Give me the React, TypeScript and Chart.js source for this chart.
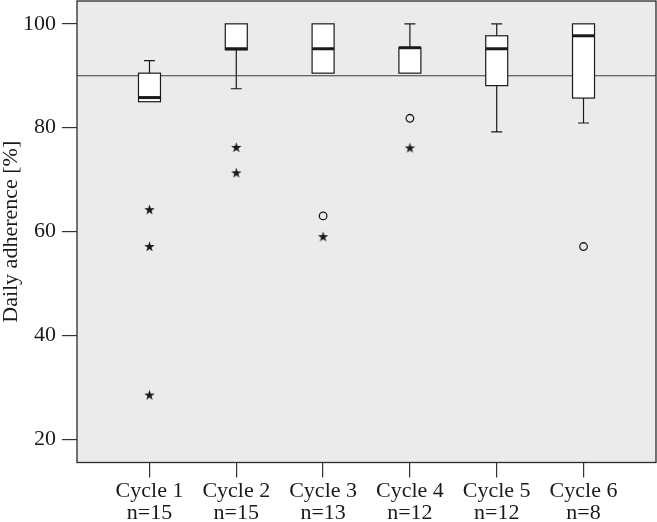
import React, { useEffect, useRef } from "react";
import { Chart, registerables } from "chart.js";

Chart.register(...registerables);

// ---- data ----
const cycles = [1, 2, 3, 4, 5, 6];
const xLabels = [
  ["Cycle 1", "n=15"],
  ["Cycle 2", "n=15"],
  ["Cycle 3", "n=13"],
  ["Cycle 4", "n=12"],
  ["Cycle 5", "n=12"],
  ["Cycle 6", "n=8"],
];
const whiskerLow = [85.0, 87.5, 90.5, 90.5, 79.2, 80.9];
const q1 = [85.0, 95.0, 90.5, 90.5, 88.1, 85.7];
const median = [85.8, 95.2, 95.2, 95.4, 95.2, 97.7];
const q3 = [90.5, 100, 100, 95.4, 97.7, 100];
const whiskerHigh = [92.9, 100, 100, 100, 100, 100];

const circleCycle = [3, 4, 6];
const circleValue = [63.0, 81.8, 57.1];
const starCycle = [1, 1, 1, 2, 2, 3, 4];
const starValue = [64.2, 57.1, 28.5, 76.2, 71.3, 59.0, 76.1];

const yTicks = [20, 40, 60, 80, 100];
const referenceValue = 90;

const FONT = "'Liberation Serif', 'Times New Roman', serif";
const INK = "#1a1a1a";

function makeStar(): HTMLCanvasElement {
  const c = document.createElement("canvas");
  c.width = 13;
  c.height = 13;
  const ctx = c.getContext("2d")!;
  ctx.fillStyle = INK;
  ctx.beginPath();
  const cx = 6.5, cy = 6.8, R = 5.5, r = 2.1;
  for (let i = 0; i < 10; i++) {
    const rad = i % 2 === 0 ? R : r;
    const a = -Math.PI / 2 + (i * Math.PI) / 5;
    const px = cx + rad * Math.cos(a);
    const py = cy + rad * Math.sin(a);
    if (i === 0) ctx.moveTo(px, py);
    else ctx.lineTo(px, py);
  }
  ctx.closePath();
  ctx.fill();
  return c;
}

const boxPlugin = {
  id: "boxPlugin",
  beforeDraw(chart: any) {
    const { ctx, chartArea: a } = chart;
    ctx.save();
    ctx.fillStyle = "#ebebeb";
    ctx.fillRect(a.left, a.top, a.right - a.left, a.bottom - a.top);
    ctx.restore();
  },
  beforeDatasetsDraw(chart: any) {
    const { ctx, chartArea: a, scales } = chart;
    const xs = scales.x;
    const ys = scales.y;
    ctx.save();
    // reference line
    const ry = ys.getPixelForValue(referenceValue);
    ctx.strokeStyle = "#3a3a3a";
    ctx.lineWidth = 1.2;
    ctx.beginPath();
    ctx.moveTo(a.left, ry);
    ctx.lineTo(a.right, ry);
    ctx.stroke();

    const halfBox = 11;
    const halfCap = 5.5;
    cycles.forEach((c, i) => {
      const cx = xs.getPixelForValue(c);
      const yq1 = ys.getPixelForValue(q1[i]);
      const yq3 = ys.getPixelForValue(q3[i]);
      const ymed = ys.getPixelForValue(median[i]);
      const ylo = ys.getPixelForValue(whiskerLow[i]);
      const yhi = ys.getPixelForValue(whiskerHigh[i]);
      ctx.strokeStyle = INK;
      ctx.lineWidth = 1.2;
      // whiskers
      if (whiskerHigh[i] > q3[i]) {
        ctx.beginPath();
        ctx.moveTo(cx, yq3);
        ctx.lineTo(cx, yhi);
        ctx.moveTo(cx - halfCap, yhi);
        ctx.lineTo(cx + halfCap, yhi);
        ctx.stroke();
      }
      if (whiskerLow[i] < q1[i]) {
        ctx.beginPath();
        ctx.moveTo(cx, yq1);
        ctx.lineTo(cx, ylo);
        ctx.moveTo(cx - halfCap, ylo);
        ctx.lineTo(cx + halfCap, ylo);
        ctx.stroke();
      }
      // box
      ctx.fillStyle = "#ffffff";
      ctx.fillRect(cx - halfBox, yq3, halfBox * 2, yq1 - yq3);
      ctx.strokeRect(cx - halfBox, yq3, halfBox * 2, yq1 - yq3);
      // median
      ctx.lineWidth = 3;
      ctx.beginPath();
      ctx.moveTo(cx - halfBox, ymed);
      ctx.lineTo(cx + halfBox, ymed);
      ctx.stroke();
    });
    ctx.restore();
  },
  afterDraw(chart: any) {
    const { ctx, chartArea: a } = chart;
    ctx.save();
    ctx.strokeStyle = "#2a2a2a";
    ctx.lineWidth = 1.3;
    ctx.strokeRect(a.left, a.top, a.right - a.left, a.bottom - a.top);
    ctx.restore();
  },
};

export default function App() {
  const ref = useRef<HTMLCanvasElement | null>(null);
  useEffect(() => {
    document.body.style.margin = "0";
    if (!ref.current) return;
    const star = makeStar();
    const chart = new Chart(ref.current, {
      type: "scatter",
      data: {
        datasets: [
          {
            label: "extreme",
            data: starCycle.map((c, i) => ({ x: c, y: starValue[i] })),
            pointStyle: star as any,
            pointRadius: 5,
          },
          {
            label: "outlier",
            data: circleCycle.map((c, i) => ({ x: c, y: circleValue[i] })),
            pointStyle: "circle",
            pointRadius: 3.8,
            borderWidth: 1.3,
            borderColor: INK,
            backgroundColor: "rgba(0,0,0,0)",
          },
        ],
      },
      options: {
        animation: false,
        responsive: true,
        maintainAspectRatio: false,
        layout: { autoPadding: false, padding: { top: 1, right: 1, left: 0, bottom: 0 } },
        plugins: {
          legend: { display: false },
          tooltip: { enabled: false },
        },
        scales: {
          x: {
            type: "linear",
            min: 0.165,
            max: 6.835,
            afterBuildTicks: (scale: any) => {
              scale.ticks = cycles.map((v) => ({ value: v }));
            },
            afterFit: (scale: any) => {
              scale.height = 59.5;
              scale.paddingLeft = 0;
              scale.paddingRight = 0;
            },
            ticks: {
              autoSkip: false,
              maxRotation: 0,
              padding: 3,
              color: INK,
              font: { family: FONT, size: 22, lineHeight: 1.0 },
              callback: (_v: any, index: number) => xLabels[index],
            },
            grid: {
              drawOnChartArea: false,
              drawTicks: true,
              tickLength: 15,
              color: "#333",
              lineWidth: 1.2,
            },
            border: { display: false },
          },
          y: {
            type: "linear",
            min: 15.5,
            max: 104.4,
            afterBuildTicks: (scale: any) => {
              scale.ticks = yTicks.map((v) => ({ value: v }));
            },
            afterFit: (scale: any) => {
              scale.width = 77;
              scale.paddingTop = 0;
              scale.paddingBottom = 0;
            },
            ticks: {
              padding: 6,
              color: INK,
              font: { family: FONT, size: 22 },
            },
            grid: {
              drawOnChartArea: false,
              drawTicks: true,
              tickLength: 15,
              color: "#333",
              lineWidth: 1.2,
            },
            border: { display: false },
            title: {
              display: true,
              text: "Daily adherence [%]",
              color: INK,
              padding: 0,
              font: { family: FONT, size: 22, lineHeight: 1.0 },
            },
          },
        },
      },
      plugins: [boxPlugin],
    });
    return () => chart.destroy();
  }, []);
  return (
    <div style={{ width: 657, height: 522, position: "relative" }}>
      <canvas ref={ref} />
    </div>
  );
}
